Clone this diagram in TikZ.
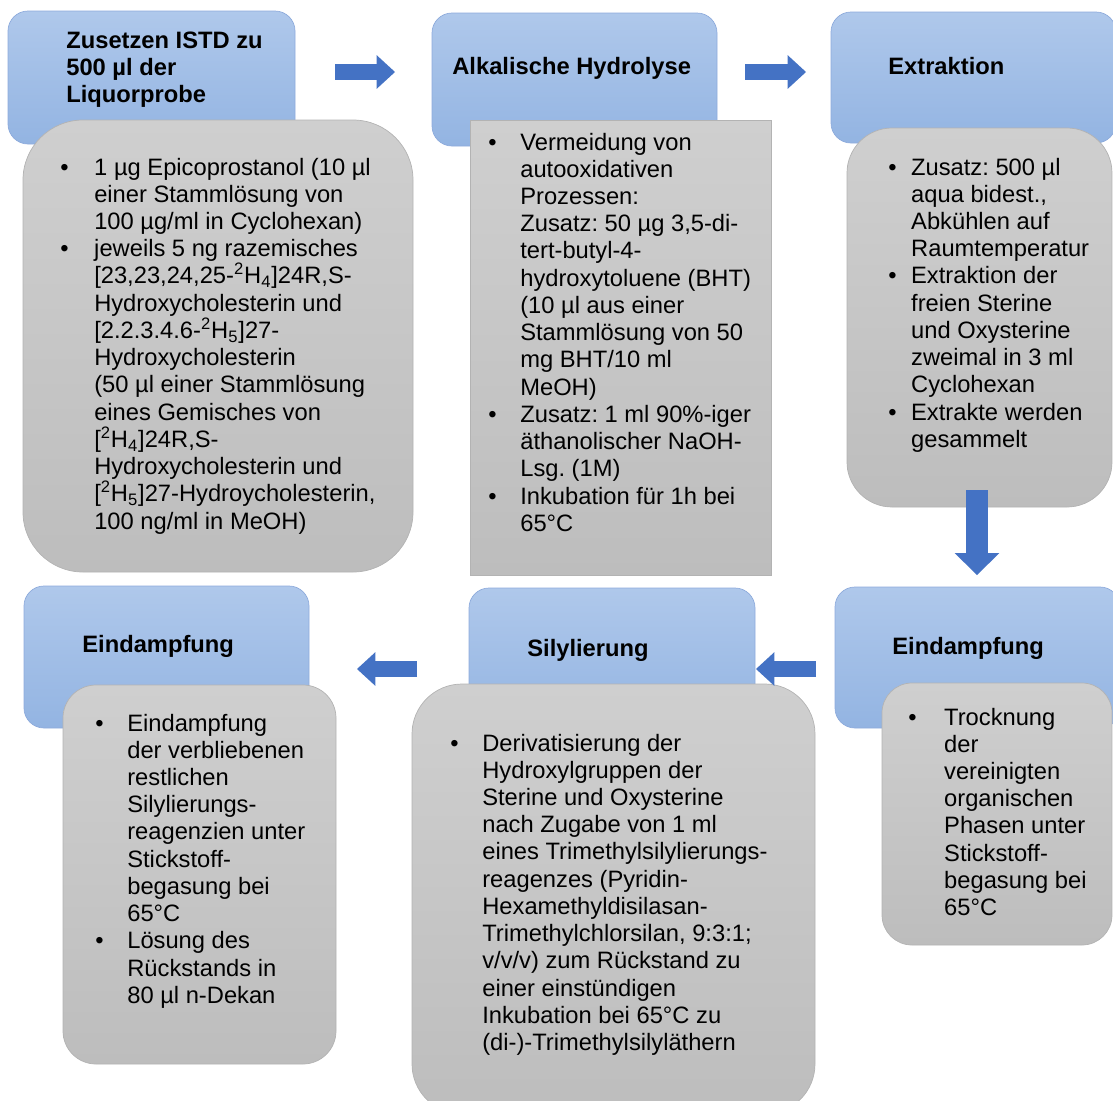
\documentclass[tikz,border=0pt]{standalone}
\usepackage{fontspec}
\setmainfont{Liberation Sans}
\usetikzlibrary{arrows.meta}
\definecolor{headtop}{HTML}{AFC8EB}
\definecolor{headbot}{HTML}{93B4E2}
\definecolor{headline}{HTML}{8EABDC}
\definecolor{cardtop}{HTML}{CFCFCF}
\definecolor{cardbot}{HTML}{BDBDBD}
\definecolor{cardline}{HTML}{B3B3B3}
\definecolor{flowblue}{HTML}{4472C4}
\def\pxu{0.02cm}   % one pixel of the layout
\newcommand{\steps}[2]{\begin{tabular}[t]{@{}p{#1}@{}l@{}}#2\end{tabular}}
\newcommand{\iso}[2]{[\smash{\textsuperscript{2}}H\textsubscript{#1}]#2}
\tikzset{
  head/.style={draw=headline, top color=headtop, bottom color=headbot, rounded corners=20*\pxu, inner sep=0pt},
  card/.style={draw=cardline, top color=cardtop, bottom color=cardbot, inner sep=0pt},
  title/.style={anchor=base west, inner sep=0pt, align=left, font=\bfseries\fontsize{13.5}{15.3}\selectfont},
  body/.style={anchor=base west, inner sep=0pt, font=\fontsize{13.5}{15.5}\selectfont\frenchspacing},
  flow/.style={draw=flowblue, line width=9.6pt, -{Triangle[width=19.3pt,length=10.5pt,line width=0pt]}},
  bigflow/.style={draw=flowblue, line width=12.5pt, -{Triangle[width=25.5pt,length=12.5pt,line width=0pt]}}
}
\begin{document}
\begin{tikzpicture}[x=\pxu, y=-\pxu]
  \useasboundingbox (0,0) rectangle (1113,1100);
  \clip (0,0) rectangle (1113,1100);

  % -- blue step boxes, top row left to right, bottom row right to left --
  \node[head, minimum width=287*\pxu, minimum height=133*\pxu] (istd) at (151.5,77.5) {};
  \node[head, minimum width=285*\pxu, minimum height=133*\pxu] (hydro) at (574.5,79.5) {};
  \node[head, minimum width=285*\pxu, minimum height=131*\pxu] (extr) at (973.5,77.5) {};
  \node[head, minimum width=285*\pxu, minimum height=141*\pxu] (dry) at (977.5,657.5) {};
  \node[head, minimum width=286*\pxu, minimum height=140*\pxu] (sily) at (612,658) {};
  \node[head, minimum width=285*\pxu, minimum height=142*\pxu] (evap) at (166.5,657) {};

  % -- grey detail boxes, laid over the lower part of each step --
  \node[card, rounded corners=60*\pxu, minimum width=390*\pxu, minimum height=452*\pxu] (istd-info) at (218,346) {};
  \node[card, minimum width=301*\pxu, minimum height=455*\pxu] (hydro-info) at (620.5,347.5) {};
  \node[card, rounded corners=45*\pxu, minimum width=265*\pxu, minimum height=379*\pxu] (extr-info) at (979.5,317.5) {};
  \node[card, rounded corners=30*\pxu, minimum width=230*\pxu, minimum height=262*\pxu] (dry-info) at (997,814) {};
  \node[card, rounded corners=50*\pxu, minimum width=403*\pxu, minimum height=430*\pxu] (sily-info) at (613.5,899) {};
  \node[card, rounded corners=33*\pxu, minimum width=273*\pxu, minimum height=379*\pxu] (evap-info) at (199.5,874.5) {};

  % -- step titles (base = last line) --
  \node[title] (istd-title) at (66,102) {Zusetzen ISTD zu\\500 µl der\\Liquorprobe};
  \node[title] (hydro-title) at (452,74) {Alkalische Hydrolyse};
  \node[title] (extr-title) at (888,74) {Extraktion};
  \node[title] (dry-title) at (892,654) {Eindampfung};
  \node[title] (sily-title) at (527,656) {Silylierung};
  \node[title] (evap-title) at (82,652) {Eindampfung};

  % -- bullet texts --
  \node[body] (istd-text) at (60,175) {\steps{19.3pt}{%
    \textbullet & 1 µg Epicoprostanol (10 µl\\
    & einer Stammlösung von\\
    & 100 µg/ml in Cyclohexan)\\
    \textbullet & jeweils 5 ng razemisches\\
    & [23,23,24,25-\smash{\textsuperscript{2}}H\textsubscript{4}]24R,S-\\
    & Hydroxycholesterin und\\
    & [2.2.3.4.6-\smash{\textsuperscript{2}}H\textsubscript{5}]27-\\
    & Hydroxycholesterin\\
    & (50 µl einer Stammlösung\\
    & eines Gemisches von\\
    & \iso{4}{24R,S-}\\
    & Hydroxycholesterin und\\
    & \iso{5}{27-Hydroycholesterin,}\\
    & 100 ng/ml in MeOH)}};
  \node[body] (hydro-text) at (488,150) {\steps{18.2pt}{%
    \textbullet & Vermeidung von\\
    & autooxidativen\\
    & Prozessen:\\
    & Zusatz: 50 µg 3,5-di-\\
    & tert-butyl-4-\\
    & hydroxytoluene (BHT)\\
    & (10 µl aus einer\\
    & Stammlösung von 50\\
    & mg BHT/10 ml\\
    & MeOH)\\
    \textbullet & Zusatz: 1 ml 90\%-iger\\
    & äthanolischer NaOH-\\
    & Lsg. (1M)\\
    \textbullet & Inkubation für 1h bei\\
    & 65°C}};
  \node[body] (extr-text) at (888,175) {\steps{13pt}{%
    \textbullet & Zusatz: 500 µl\\
    & aqua bidest.,\\
    & Abkühlen auf\\
    & Raumtemperatur\\
    \textbullet & Extraktion der\\
    & freien Sterine\\
    & und Oxysterine\\
    & zweimal in 3 ml\\
    & Cyclohexan\\
    \textbullet & Extrakte werden\\
    & gesammelt}};
  \node[body] (dry-text) at (908,725) {\steps{20.4pt}{%
    \textbullet & Trocknung\\
    & der\\
    & vereinigten\\
    & organischen\\
    & Phasen unter\\
    & Stickstoff-\\
    & begasung bei\\
    & 65°C}};
  \node[body] (sily-text) at (450,751) {\steps{18.2pt}{%
    \textbullet & Derivatisierung der\\
    & Hydroxylgruppen der\\
    & Sterine und Oxysterine\\
    & nach Zugabe von 1 ml\\
    & eines Trimethylsilylierungs-\\
    & reagenzes (Pyridin-\\
    & Hexamethyldisilasan-\\
    & Trimethylchlorsilan, 9:3:1;\\
    & v/v/v) zum Rückstand zu\\
    & einer einstündigen\\
    & Inkubation bei 65°C zu\\
    & (di-)-Trimethylsilyläthern}};
  \node[body] (evap-text) at (95,731) {\steps{18.2pt}{%
    \textbullet & Eindampfung\\
    & der verbliebenen\\
    & restlichen\\
    & Silylierungs-\\
    & reagenzien unter\\
    & Stickstoff-\\
    & begasung bei\\
    & 65°C\\
    \textbullet & Lösung des\\
    & Rückstands in\\
    & 80 µl n-Dekan}};

  % -- block arrows between the steps --
  \coordinate (a1s) at (335,72);  \coordinate (a1e) at (395,72);
  \coordinate (a2s) at (745,72);  \coordinate (a2e) at (806,72);
  \coordinate (a3s) at (977,490); \coordinate (a3e) at (977,575);
  \coordinate (a4s) at (816,669); \coordinate (a4e) at (756,669);
  \coordinate (a5s) at (417,669); \coordinate (a5e) at (357,669);
  \draw[flow] (a1s) -- (a1e);
  \draw[flow] (a2s) -- (a2e);
  \draw[bigflow] (a3s) -- (a3e);
  \draw[flow] (a4s) -- (a4e);
  \draw[flow] (a5s) -- (a5e);
\end{tikzpicture}
\end{document}
